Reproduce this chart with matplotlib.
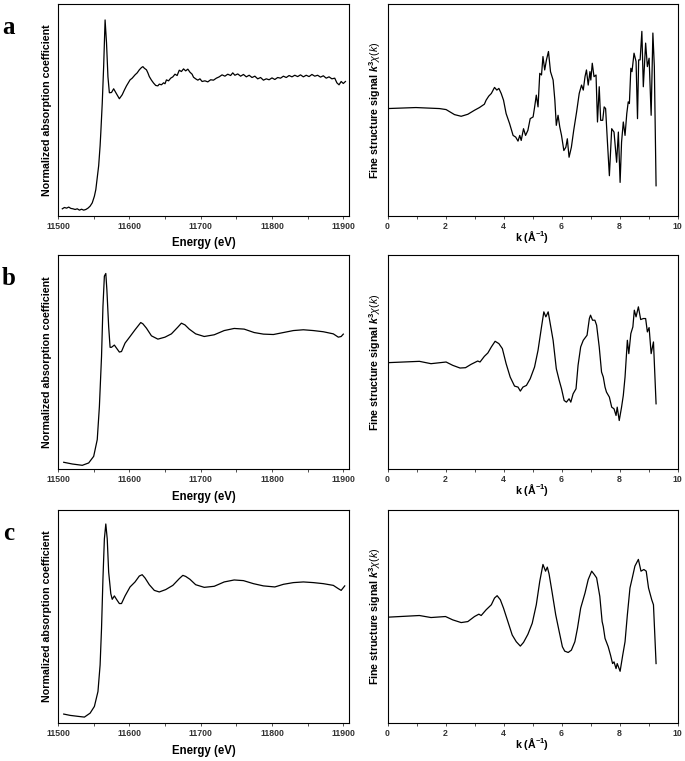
import matplotlib.pyplot as plt
from matplotlib.ticker import MultipleLocator

plt.rcParams['font.family'] = ['Liberation Sans', 'DejaVu Sans']
plt.rcParams['mathtext.fontset'] = 'custom'
plt.rcParams['mathtext.rm'] = 'Liberation Sans'
plt.rcParams['mathtext.it'] = 'Liberation Sans:italic'
plt.rcParams['mathtext.bf'] = 'Liberation Sans:bold'
plt.rcParams['mathtext.bfit'] = 'Liberation Sans:italic:bold'

# ---- XANES: energy (eV) / normalized absorption ----
e_a = [11506, 11509, 11512, 11515, 11518, 11521, 11524, 11527, 11530, 11533, 11536, 11539,
       11542, 11545, 11548, 11551, 11553, 11555, 11557, 11559, 11560, 11562, 11564, 11566,
       11568, 11570, 11572, 11575, 11578, 11582, 11586, 11590, 11593, 11596, 11598, 11601,
       11604, 11608, 11611, 11614, 11617, 11619, 11621, 11624, 11626, 11628, 11631, 11634,
       11637, 11640, 11642, 11645, 11648, 11650, 11652, 11655, 11658, 11661, 11664, 11667,
       11670, 11673, 11676, 11679, 11682, 11685, 11688, 11690, 11693, 11696, 11699, 11702,
       11706, 11710, 11714, 11718, 11722, 11726, 11730, 11734, 11738, 11742, 11745, 11748,
       11752, 11756, 11760, 11764, 11768, 11772, 11776, 11780, 11784, 11788, 11792, 11796,
       11800, 11804, 11808, 11812, 11816, 11820, 11824, 11828, 11832, 11836, 11840, 11844,
       11848, 11852, 11856, 11860, 11864, 11868, 11872, 11876, 11880, 11884, 11888, 11891,
       11894, 11897, 11900, 11903]
mu_a = [0.005, 0.015, 0.010, 0.018, 0.008, 0.005, 0.000, 0.005, -0.005, 0.002, -0.005, 0.000,
        0.010, 0.025, 0.050, 0.100, 0.150, 0.240, 0.330, 0.480, 0.580, 0.800, 1.080, 1.429,
        1.256, 1.000, 0.880, 0.882, 0.910, 0.872, 0.835, 0.865, 0.900, 0.932, 0.950, 0.977,
        0.990, 1.015, 1.030, 1.053, 1.070, 1.077, 1.065, 1.053, 1.030, 1.002, 0.975, 0.953,
        0.935, 0.932, 0.945, 0.940, 0.955, 0.948, 0.977, 0.970, 0.990, 1.000, 1.020, 1.010,
        1.050, 1.040, 1.060, 1.045, 1.058, 1.035, 1.020, 0.997, 0.985, 0.975, 0.985, 0.965,
        0.970, 0.962, 0.978, 0.975, 0.990, 1.000, 1.015, 1.005, 1.020, 1.010, 1.030, 1.012,
        1.022, 1.005, 1.018, 1.000, 1.012, 0.995, 1.005, 0.985, 0.995, 0.975, 0.985, 0.978,
        0.992, 0.980, 0.995, 0.990, 1.005, 0.995, 1.010, 1.000, 1.012, 1.002, 1.015, 1.000,
        1.012, 1.002, 1.018, 1.005, 1.012, 0.998, 1.008, 0.990, 1.000, 0.985, 0.990, 0.955,
        0.940, 0.965, 0.950, 0.965]

e_b = [11508, 11520, 11534, 11543, 11550, 11555, 11558, 11561, 11563, 11565, 11567, 11568.5,
       11571, 11573, 11575, 11579, 11582, 11586, 11589, 11594, 11601, 11608, 11616, 11619,
       11624, 11631, 11640, 11650, 11659, 11668, 11673, 11678, 11684, 11693, 11705, 11719,
       11733, 11747, 11761, 11775, 11788, 11802, 11816, 11830, 11844, 11858, 11872, 11886,
       11893, 11897, 11900]
mu_b = [0.018, 0.005, -0.005, 0.013, 0.063, 0.190, 0.440, 0.820, 1.200, 1.430, 1.450, 1.326,
        1.048, 0.890, 0.890, 0.907, 0.884, 0.854, 0.858, 0.922, 0.972, 1.023, 1.078, 1.068,
        1.035, 0.977, 0.952, 0.967, 0.992, 1.043, 1.073, 1.060, 1.028, 0.992, 0.972, 0.985,
        1.017, 1.033, 1.028, 1.002, 0.990, 0.987, 1.002, 1.017, 1.023, 1.017, 1.008, 0.992,
        0.967, 0.972, 0.990]

e_c = [11508, 11517, 11529, 11537, 11545, 11551, 11556, 11559, 11561, 11563, 11565, 11567,
       11569, 11571, 11574, 11576, 11579, 11582, 11586, 11589, 11594, 11601, 11608, 11614,
       11618, 11622, 11628, 11635, 11642, 11651, 11661, 11670, 11675, 11679, 11685, 11693,
       11705, 11719, 11733, 11747, 11760, 11774, 11788, 11804, 11816, 11830, 11844, 11858,
       11872, 11886, 11893, 11897, 11902]
mu_c = [0.010, 0.000, -0.008, -0.013, 0.017, 0.068, 0.181, 0.382, 0.660, 1.038, 1.340, 1.453,
        1.340, 1.088, 0.924, 0.881, 0.907, 0.881, 0.849, 0.849, 0.907, 0.975, 1.013, 1.058,
        1.068, 1.043, 0.992, 0.949, 0.937, 0.955, 0.987, 1.038, 1.063, 1.055, 1.033, 0.992,
        0.972, 0.980, 1.013, 1.028, 1.023, 1.000, 0.983, 0.975, 0.995, 1.008, 1.013, 1.008,
        1.000, 0.987, 0.962, 0.949, 0.983]

# ---- EXAFS: k (1/A) / k^3 chi(k) ----
k_a = [0, 0.98, 1.79, 2.02, 2.31, 2.54, 2.77, 3.0, 3.17, 3.34, 3.4, 3.49, 3.58, 3.69, 3.77,
       3.84, 3.92, 4.0, 4.09, 4.21, 4.33, 4.42, 4.5, 4.56, 4.61, 4.69, 4.76, 4.84, 4.92, 5.02,
       5.07, 5.13, 5.19, 5.25, 5.31, 5.36, 5.42, 5.48, 5.55, 5.62, 5.71, 5.77, 5.82, 5.88,
       5.94, 6.0, 6.08, 6.15, 6.2, 6.26, 6.34, 6.42, 6.52, 6.61, 6.69, 6.75, 6.81, 6.86, 6.92,
       6.98, 7.01, 7.06, 7.12, 7.19, 7.24, 7.3, 7.35, 7.42, 7.47, 7.52, 7.58, 7.65, 7.73, 7.81,
       7.9, 7.96, 8.02, 8.07, 8.13, 8.19, 8.25, 8.3, 8.34, 8.39, 8.43, 8.5, 8.57, 8.62, 8.66,
       8.71, 8.77, 8.82, 8.9, 8.96, 9.02, 9.09, 9.15, 9.2, 9.26]
chi_a = [0, 0.03, 0, -0.03, -0.18, -0.23, -0.17, -0.05, 0.03, 0.13, 0.25, 0.37, 0.45, 0.63,
         0.55, 0.6, 0.45, 0.25, -0.15, -0.45, -0.8, -0.85, -0.97, -0.8, -0.95, -0.6, -0.8,
         -0.65, -0.3, -0.25, 0.03, 0.4, 0.05, 1.05, 1.0, 1.55, 1.15, 1.45, 1.7, 1.1, 0.85,
         0.25, -0.5, -0.2, -0.55, -0.8, -1.25, -1.15, -0.9, -1.45, -1.15, -0.65, -0.1, 0.45,
         0.7, 0.55, 0.95, 1.15, 0.7, 1.1, 0.85, 1.35, 0.95, 1.0, -0.4, 0.65, -0.35, -0.35,
         0.05, 0.0, -0.95, -2.0, -0.6, -0.7, -1.6, -0.7, -2.2, -1.0, -0.4, -0.8, -0.15, 0.2,
         0.15, 1.2, 1.1, 1.65, 1.4, -0.3, 1.45, 1.45, 2.3, 0.65, 1.95, 1.25, 1.5, -0.2, 2.25,
         1.25, -2.3]

k_b = [0, 1.1, 1.5, 2.02, 2.25, 2.5, 2.69, 2.88, 3.11, 3.19, 3.34, 3.46, 3.58, 3.71, 3.84,
       3.96, 4.09, 4.23, 4.38, 4.5, 4.58, 4.67, 4.79, 4.92, 5.07, 5.19, 5.31, 5.39, 5.46,
       5.54, 5.59, 5.71, 5.82, 5.92, 6.0, 6.09, 6.17, 6.26, 6.32, 6.4, 6.5, 6.57, 6.66, 6.75,
       6.88, 6.96, 7.0, 7.07, 7.15, 7.21, 7.3, 7.38, 7.44, 7.5, 7.55, 7.65, 7.73, 7.81, 7.88,
       7.92, 7.99, 8.07, 8.13, 8.19, 8.27, 8.32, 8.39, 8.46, 8.51, 8.57, 8.65, 8.73, 8.82,
       8.9, 8.96, 9.02, 9.09, 9.17, 9.26]
chi_b = [0, 0.04, -0.03, 0.02, -0.08, -0.16, -0.15, -0.05, 0.05, 0.02, 0.19, 0.29, 0.47,
         0.64, 0.57, 0.42, -0.03, -0.43, -0.7, -0.73, -0.85, -0.73, -0.68, -0.48, -0.13, 0.37,
         1.07, 1.52, 1.37, 1.52, 1.27, 0.67, -0.18, -0.53, -0.78, -1.13, -1.18, -1.08, -1.18,
         -0.93, -0.78, -0.08, 0.47, 0.67, 0.82, 1.32, 1.42, 1.27, 1.27, 1.12, 0.47, -0.28,
         -0.43, -0.73, -0.88, -1.03, -1.33, -1.38, -1.58, -1.33, -1.73, -1.33, -0.98, -0.43,
         0.67, 0.27, 0.87, 1.07, 1.57, 1.37, 1.67, 1.29, 1.32, 1.32, 0.92, 1.05, 0.27, 0.62,
         -1.23]

k_c = [0, 1.1, 1.5, 2.0, 2.25, 2.54, 2.77, 3.0, 3.15, 3.23, 3.4, 3.58, 3.69, 3.78, 3.89,
       4.0, 4.15, 4.3, 4.44, 4.58, 4.69, 4.84, 4.99, 5.13, 5.25, 5.36, 5.45, 5.51, 5.57,
       5.67, 5.8, 5.92, 6.03, 6.11, 6.23, 6.34, 6.46, 6.55, 6.66, 6.81, 6.92, 7.04, 7.13,
       7.21, 7.32, 7.4, 7.44, 7.5, 7.61, 7.69, 7.76, 7.81, 7.88, 7.92, 8.02, 8.11, 8.19,
       8.27, 8.36, 8.44, 8.53, 8.65, 8.74, 8.84, 8.92, 9.0, 9.11, 9.17, 9.26]
chi_c = [0, 0.05, -0.01, 0.02, -0.08, -0.16, -0.13, 0.02, 0.09, 0.05, 0.22, 0.37, 0.57, 0.64,
         0.52, 0.27, -0.13, -0.53, -0.73, -0.86, -0.75, -0.51, -0.18, 0.37, 1.07, 1.57, 1.37,
         1.49, 1.29, 0.77, 0.07, -0.43, -0.88, -1.01, -1.05, -0.98, -0.73, -0.33, 0.27, 0.72,
         1.12, 1.37, 1.27, 1.17, 0.62, -0.13, -0.28, -0.63, -0.88, -1.13, -1.38, -1.33, -1.53,
         -1.38, -1.61, -1.13, -0.73, 0.07, 0.87, 1.17, 1.52, 1.72, 1.37, 1.42, 1.37, 0.87,
         0.52, 0.37, -1.38]

letters = ['a', 'b', 'c']
xanes = [(e_a, mu_a), (e_b, mu_b), (e_c, mu_c)]
exafs = [(k_a, chi_a), (k_b, chi_b), (k_c, chi_c)]
xanes_ylim = [(-0.049, 1.553), (-0.033, 1.59), (-0.058, 1.559)]
exafs_ylim = [(-3.2, 3.13), (-3.18, 3.22), (-3.15, 3.19)]
rows = [(0.7162, 0.2792), (0.3837, 0.2812), (0.0499, 0.2799)]

fig = plt.figure(figsize=(6.85, 7.61), dpi=100)


def style(ax):
    for s in ax.spines.values():
        s.set_linewidth(0.8)
    ax.set_yticks([])
    ax.tick_params(axis='x', which='both', direction='out', width=0.6, colors='#333333',
                   labelsize=6.3, pad=1.5)
    ax.tick_params(axis='x', which='major', length=2.5)
    ax.tick_params(axis='x', which='minor', length=1.8)
    for t in ax.get_xticklabels():
        t.set_fontweight('bold')


for i in range(3):
    b, h = rows[i]
    ax1 = fig.add_axes([0.0847, b, 0.4248, h])
    ax1.plot(xanes[i][0], xanes[i][1], color='black', lw=0.9)
    ax1.set_xlim(11500, 11908)
    ax1.set_ylim(*xanes_ylim[i])
    ax1.xaxis.set_major_locator(MultipleLocator(100))
    ax1.xaxis.set_minor_locator(MultipleLocator(50))
    style(ax1)
    ax1.set_xlabel('Energy (eV)', fontsize=8.3, fontweight='bold', labelpad=5)
    ax1.set_ylabel('Normalized absorption coefficient', fontsize=7.7, fontweight='bold',
                   labelpad=4)

    ax2 = fig.add_axes([0.5657, b, 0.4234, h])
    ax2.plot(exafs[i][0], exafs[i][1], color='black', lw=0.9)
    ax2.set_xlim(0, 10)
    ax2.set_ylim(*exafs_ylim[i])
    ax2.xaxis.set_major_locator(MultipleLocator(2))
    ax2.xaxis.set_minor_locator(MultipleLocator(1))
    style(ax2)
    ax2.set_xlabel(r'k (Å$^{\mathbf{-1}}$)', fontsize=7.7, fontweight='bold', labelpad=-1)
    ax2.set_ylabel(r'Fine structure signal $\mathbfit{k}^{\mathbf{3}}\chi(k)$', fontsize=7.7,
                   fontweight='bold', labelpad=3)

    fig.text(0.013, b + h - 0.031, letters[i], fontsize=18, fontweight='bold',
             family='Liberation Serif', va='center', ha='center')

fig.savefig('out.png', dpi=100)
